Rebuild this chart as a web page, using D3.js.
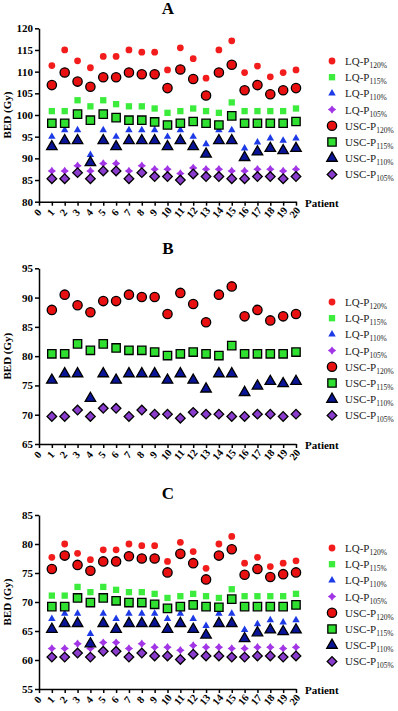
<!DOCTYPE html>
<meta charset="utf-8">
<head>
<style>
	body { margin: 0; background: #fff; }
	svg text { font-family: "Times New Roman", "Liberation Serif", serif; }
	.axis path, .axis line { stroke: #000; stroke-width: 1.5; }
	.axis text { font-weight: bold; font-size: 11px; fill: #000; }
	.legend text { font-size: 11px; fill: #222; }
</style>
<script src="https://d3js.org/d3.v7.min.js"></script>
</head>
<body></body>
<script>

var patients = [1,2,3,4,5,6,7,8,9,10,11,12,13,14,15,16,17,18,19,20];
var xTicks = [0,1,2,3,4,5,6,7,8,9,10,11,12,13,14,15,16,17,18,19,20];
var seriesNames = ["LQ-P","LQ-P","LQ-P","LQ-P","USC-P","USC-P","USC-P","USC-P"];
var seriesSubs = ["120%","115%","110%","105%","120%","115%","110%","105%"];

// panel A
var aTicks = [80,85,90,95,100,105,110,115,120];
var aLQ120 = [111.4,115.0,112.5,110.9,113.5,113.5,115.0,114.5,114.5,110.4,115.5,113.0,108.5,115.0,117.1,109.8,111.3,108.8,109.8,110.4];
var aLQ115 = [100.9,100.9,103.4,102.0,103.4,102.5,102.0,102.0,101.5,100.5,100.9,101.5,100.9,100.5,102.9,100.9,100.9,100.9,100.9,101.5];
var aLQ110 = [95.0,96.5,96.5,90.8,96.5,95.0,96.5,96.5,96.5,95.0,96.5,95.0,93.3,96.5,96.5,92.3,93.7,94.6,94.1,94.6];
var aLQ105 = [87.1,87.1,88.3,87.1,88.8,88.8,87.1,88.3,87.5,87.5,86.5,87.8,87.5,87.5,87.1,87.1,87.5,87.5,87.1,87.5];
var aUSC120 = [106.9,109.8,107.7,106.5,108.7,108.7,109.8,109.4,109.4,106.2,110.5,108.3,104.5,109.8,111.6,105.7,106.9,104.8,105.7,106.2];
var aUSC115 = [98.1,98.1,100.2,98.8,100.2,99.4,98.8,98.8,98.4,97.7,98.1,98.5,98.1,97.7,99.8,98.1,98.1,98.1,98.1,98.5];
var aUSC110 = [92.7,94.1,94.1,89.0,94.1,92.7,94.1,94.1,94.1,92.7,94.1,92.7,91.0,94.1,94.1,90.2,91.5,92.3,91.8,92.3];
var aUSC105 = [85.3,85.3,86.7,85.3,87.1,87.1,85.3,86.7,85.8,85.8,85.0,86.4,85.8,85.8,85.3,85.3,85.8,85.8,85.3,85.8];

// panel B
var bTicks = [65,70,75,80,85,90,95];
var bLQ120 = [87.9,90.5,88.7,87.5,89.4,89.4,90.5,90.1,90.1,87.2,90.8,88.9,85.8,90.5,92.2,86.8,87.9,86.1,86.8,87.2];
var bLQ115 = [80.4,80.4,82.1,81.0,82.1,81.4,81.0,81.0,80.7,80.1,80.4,80.7,80.4,80.1,81.8,80.4,80.4,80.4,80.4,80.7];
var bLQ110 = [75.9,77.0,77.0,72.8,77.0,75.9,77.0,77.0,77.0,75.9,77.0,75.9,74.4,77.0,77.0,73.8,74.9,75.7,75.3,75.7];
var bLQ105 = [69.7,69.7,70.8,69.7,71.1,71.1,69.7,70.8,70.1,70.1,69.4,70.4,70.1,70.1,69.7,69.7,70.1,70.1,69.7,70.1];
var bUSC120 = [87.9,90.5,88.7,87.5,89.4,89.4,90.5,90.1,90.1,87.2,90.8,88.9,85.8,90.5,91.9,86.8,87.9,86.1,86.8,87.2];
var bUSC115 = [80.4,80.4,82.1,81.0,82.1,81.4,81.0,81.0,80.7,80.1,80.4,80.7,80.4,80.1,81.8,80.4,80.4,80.4,80.4,80.7];
var bUSC110 = [75.9,77.0,77.0,72.8,77.0,75.9,77.0,77.0,77.0,75.9,77.0,75.9,74.4,77.0,77.0,73.8,74.9,75.7,75.3,75.7];
var bUSC105 = [69.7,69.7,70.8,69.7,71.1,71.1,69.7,70.8,70.1,70.1,69.4,70.4,70.1,70.1,69.7,69.7,70.1,70.1,69.7,70.1];

// panel C
var cTicks = [55,60,65,70,75,80,85];
var cLQ120 = [77.7,80.0,78.4,77.3,79.0,79.0,80.0,79.7,79.7,77.0,80.3,78.7,75.8,80.0,81.3,76.7,77.7,76.1,76.7,77.1];
var cLQ115 = [71.1,71.1,72.6,71.7,72.6,72.1,71.7,71.7,71.4,70.7,71.0,71.4,71.0,70.7,72.2,71.0,71.0,71.0,71.0,71.4];
var cLQ110 = [67.1,68.0,68.0,64.5,68.0,67.1,68.0,68.0,68.0,67.1,68.0,67.1,65.9,68.0,68.0,65.2,66.2,66.9,66.5,66.9];
var cLQ105 = [62.0,62.0,62.8,62.0,63.0,63.0,62.0,62.8,62.2,62.2,61.7,62.5,62.2,62.2,62.0,62.0,62.2,62.2,62.0,62.2];
var cUSC120 = [75.7,78.0,76.4,75.4,77.0,77.0,77.9,77.5,77.5,75.1,78.3,76.7,73.9,78.0,79.1,74.7,75.7,74.3,74.8,75.1];
var cUSC115 = [69.2,69.2,70.7,69.9,70.7,70.2,69.9,69.9,69.6,68.9,69.2,69.5,69.2,69.1,70.5,69.2,69.2,69.2,69.2,69.5];
var cUSC110 = [65.3,66.3,66.3,62.8,66.3,65.3,66.3,66.3,66.3,65.3,66.3,65.3,64.3,66.3,66.3,63.7,64.7,65.2,64.9,65.2];
var cUSC105 = [60.5,60.5,61.2,60.5,61.5,61.5,60.5,61.2,60.7,60.7,60.1,61.0,60.7,60.7,60.5,60.5,60.7,60.7,60.5,60.7];

var width = 398, height = 711;

var svg = d3.select("body").append("svg")
	.attr("width", width)
	.attr("height", height);

var x = d3.scaleLinear().domain([0, 20]).range([39, 296]);

// marker look per series, same order as seriesNames
var styles = [
	{shape: "circle",  size: 36, fill: "#f21c1c", stroke: "none"},
	{shape: "square",  size: 40, fill: "#3cec3c", stroke: "none"},
	{shape: "triangle",size: 24, fill: "#1c3ae6", stroke: "none"},
	{shape: "star",    size: 4.2, fill: "#a235e6", stroke: "none"},
	{shape: "circle",  size: 68, fill: "#e81010", stroke: "#000"},
	{shape: "square",  size: 70, fill: "#30e030", stroke: "#000"},
	{shape: "triangle",size: 48, fill: "#0a1496", stroke: "#000"},
	{shape: "diamond", size: 46, fill: "#8a3ccc", stroke: "#000"}
];

function markerPath(s) {
	if (s.shape == "circle") return d3.symbol(d3.symbolCircle, s.size)();
	if (s.shape == "square" || s.shape == "diamond") return d3.symbol(d3.symbolSquare, s.size)();
	if (s.shape == "triangle") return d3.symbol(d3.symbolTriangle, s.size)();
	// small four-point star
	var r = s.size, k = r * 0.42, pts = [[0,-r],[k,-k],[r,0],[k,k],[0,r],[-k,k],[-r,0],[-k,-k]];
	return "M" + pts.map(function(p) {return p.join(",")}).join("L") + "Z";
}

function addMarker(sel, s) {
	sel.append("path")
		.attr("d", markerPath(s))
		.attr("fill", s.fill)
		.attr("stroke", s.stroke)
		.attr("stroke-width", s.stroke == "none" ? 0 : 1.3)
		.attr("transform", s.shape == "diamond" ? "rotate(45)" : null);
}

var panels = [
	{title: "A", titleY: 14, domain: [80, 120], ticks: aTicks, top: 28.3, bottom: 201.7, legendY: 61,
		series: [aLQ120, aLQ115, aLQ110, aLQ105, aUSC120, aUSC115, aUSC110, aUSC105]},
	{title: "B", titleY: 254, domain: [65, 95], ticks: bTicks, top: 268.3, bottom: 444, legendY: 302,
		series: [bLQ120, bLQ115, bLQ110, bLQ105, bUSC120, bUSC115, bUSC110, bUSC105]},
	{title: "C", titleY: 499, domain: [55, 85], ticks: cTicks, top: 515, bottom: 689, legendY: 548,
		series: [cLQ120, cLQ115, cLQ110, cLQ105, cUSC120, cUSC115, cUSC110, cUSC105]}
];

panels.forEach(drawPanel);

function drawPanel(p) {
	var y = d3.scaleLinear().domain(p.domain).range([p.bottom, p.top]);
	var g = svg.append("g");

	g.append("text")
		.attr("x", 168).attr("y", p.titleY)
		.attr("text-anchor", "middle")
		.style("font-size", "17px").style("font-weight", "bold")
		.text(p.title);

	g.append("g").attr("class", "axis")
		.attr("transform", "translate(39,0)")
		.call(d3.axisLeft(y).tickValues(p.ticks).tickSize(4).tickSizeOuter(0).tickPadding(2));

	var xa = g.append("g").attr("class", "axis")
		.attr("transform", "translate(0," + p.bottom + ")")
		.call(d3.axisBottom(x).tickValues(xTicks).tickSize(4).tickSizeOuter(0));
	xa.selectAll("text")
		.attr("y", 0).attr("dy", 0)
		.attr("text-anchor", "middle")
		.style("font-size", "10.5px")
		.attr("transform", "translate(1,13)rotate(-50)");

	g.append("text")
		.attr("transform", "translate(11," + (p.top + p.bottom) / 2 + ")rotate(-90)")
		.attr("text-anchor", "middle")
		.style("font-size", "11px").style("font-weight", "bold")
		.text("BED (Gy)");

	g.append("text")
		.attr("x", 305).attr("y", p.bottom + 5)
		.style("font-size", "11px").style("font-weight", "bold")
		.text("Patient");

	p.series.forEach(function(vals, i) {
		g.append("g").selectAll("g")
			.data(vals)
		  .enter().append("g")
			.attr("transform", function(d, j) {return "translate(" + x(patients[j]) + "," + y(d) + ")"})
			.each(function() {addMarker(d3.select(this), styles[i])});
	});

	var lg = g.append("g").attr("class", "legend");
	seriesNames.forEach(function(name, i) {
		var row = lg.append("g")
			.attr("transform", "translate(332," + (p.legendY + i * 16.2) + ")");
		addMarker(row, styles[i]);
		var t = row.append("text").attr("x", 13).attr("y", 4);
		t.append("tspan").text(name);
		t.append("tspan").attr("dy", 3).style("font-size", "7.5px").text(seriesSubs[i]);
	});
}

</script>
